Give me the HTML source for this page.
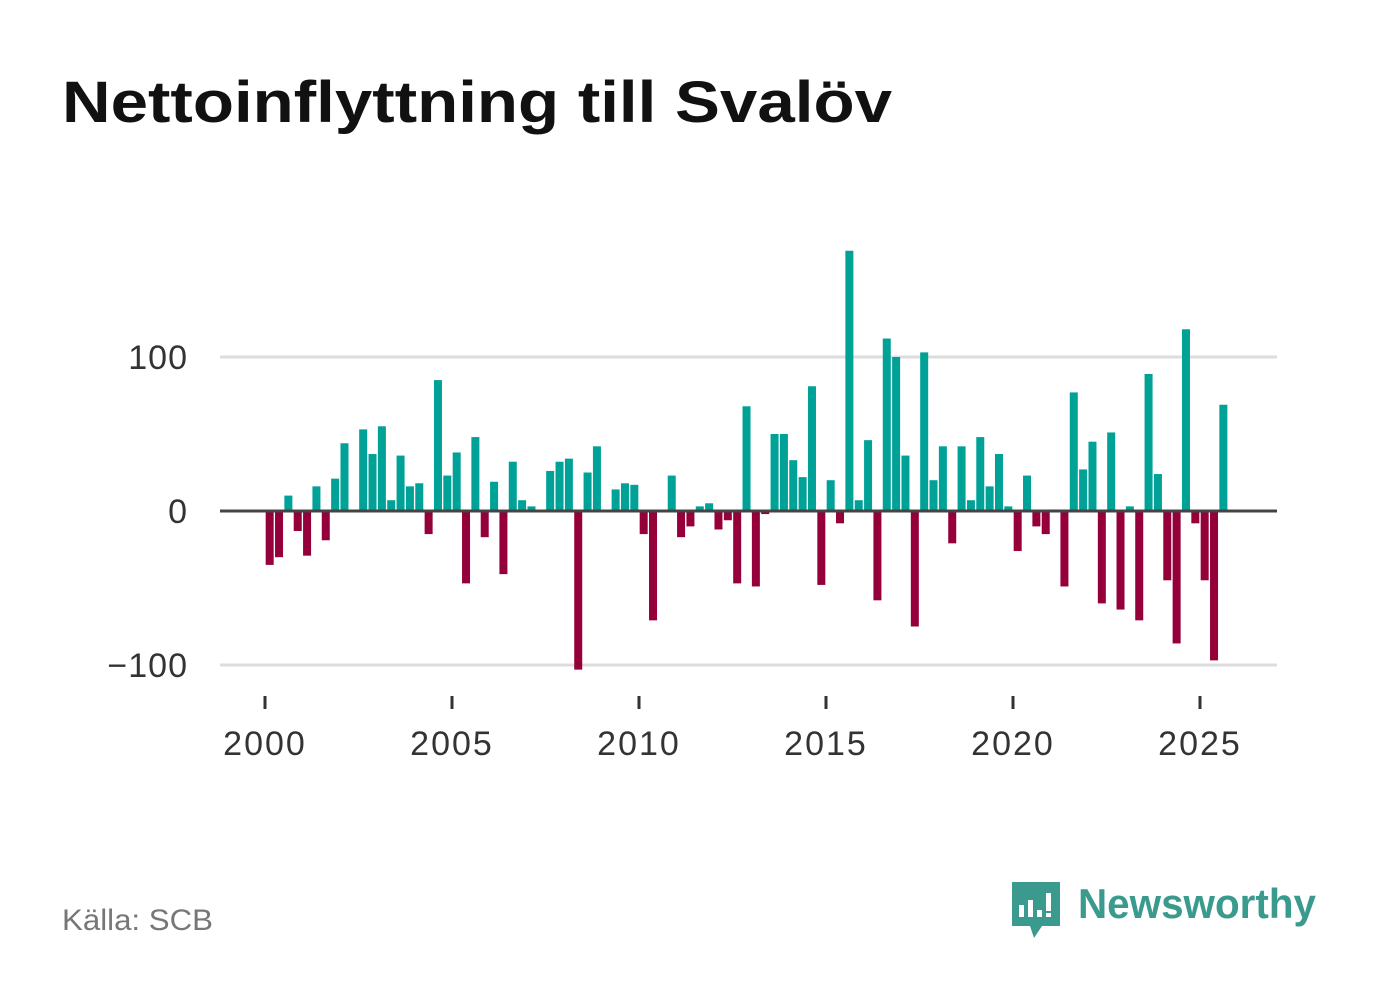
<!DOCTYPE html>
<html><head><meta charset="utf-8"><style>
body{margin:0;background:#fff;font-family:"Liberation Sans","DejaVu Sans",sans-serif;}
#wrap{position:relative;width:1382px;height:999px;overflow:hidden;}
</style></head><body>
<div id="wrap">
<svg id="chart" width="1382" height="999">
<text x="62" y="122" font-size="58" font-weight="bold" fill="#111" textLength="830" lengthAdjust="spacingAndGlyphs">Nettoinflyttning till Svalöv</text>
<g id="grid"></g><g id="bars"></g><g id="axes"></g>
<text x="62" y="930" font-size="30" fill="#777" textLength="151" lengthAdjust="spacingAndGlyphs">Källa: SCB</text>
<g>
<path d="M1012 882 h48 v44 h-18 l-8 12 l-4 -12 h-18 z" fill="#3a9a8e"/>
<rect x="1019" y="905" width="5" height="12" fill="#fff"/><rect x="1028" y="900" width="5" height="17" fill="#fff"/><rect x="1037" y="910" width="5" height="7" fill="#fff"/><rect x="1046" y="893" width="5" height="18" fill="#fff"/><rect x="1046" y="913" width="5" height="4" fill="#fff"/>
<text x="1078" y="918" font-size="42" font-weight="bold" fill="#3a9a8e" textLength="238" lengthAdjust="spacingAndGlyphs">Newsworthy</text>
</g>
</svg>
</div>
<script>
const values = [-35,-30,10,-13,-29,16,-19,21,44,0,53,37,55,7,36,16,18,-15,85,23,38,-47,48,-17,19,-41,32,7,3,0,26,32,34,-103,25,42,0,14,18,17,-15,-71,0,23,-17,-10,3,5,-12,-6,-47,68,-49,-2,50,50,33,22,81,-48,20,-8,169,7,46,-58,112,100,36,-75,103,20,42,-21,42,7,48,16,37,3,-26,23,-10,-15,1,-49,77,27,45,-60,51,-64,3,-71,89,24,-45,-86,118,-8,-45,-97,69];
const startYear = 2000;
const yTicks = [-100, 0, 100];
const yTickLabels = ["\u2212100", "0", "100"];
const xTicks = [2000, 2005, 2010, 2015, 2020, 2025];
const NS = "http://www.w3.org/2000/svg";
const x = t => 265 + (t - 2000) * 37.4;
const y = v => 511 - v * 1.54;
function mk(tag, attrs, parent){const e=document.createElementNS(NS,tag);for(const k in attrs)e.setAttribute(k,attrs[k]);parent.appendChild(e);return e;}
const grid=document.getElementById('grid'),bars=document.getElementById('bars'),axes=document.getElementById('axes');
yTicks.forEach((t,i)=>{
  if(t!==0){const l=mk('line',{x1:220,x2:1277,y1:y(t),y2:y(t),stroke:'#ddd','stroke-width':3},grid);
  
  }
  const tx=mk('text',{x:188,y:y(t)+12,'text-anchor':'end','font-size':34,fill:'#333','letter-spacing':1},axes);
  tx.textContent=yTickLabels[i];
  
  
});
values.forEach((v,i)=>{
  const c=x(startYear+(i+0.5)/4);
  const r=mk('rect',{x:c-4,width:8,y:Math.min(y(v),y(0)),height:Math.abs(y(v)-y(0)),fill:v>=0?'#00a197':'#95003a'},bars);
  
  
});
const z=mk('line',{x1:220,x2:1277,y1:y(0),y2:y(0),stroke:'#444','stroke-width':3},axes);


xTicks.forEach(t=>{
  const l=mk('line',{x1:x(t),x2:x(t),y1:696,y2:709,stroke:'#333','stroke-width':3},axes);
  
  
  const tx=mk('text',{x:x(t),y:755,'text-anchor':'middle','font-size':34,fill:'#333','letter-spacing':2},axes);
  tx.textContent=t;
  
  
});
</script>
</body></html>
